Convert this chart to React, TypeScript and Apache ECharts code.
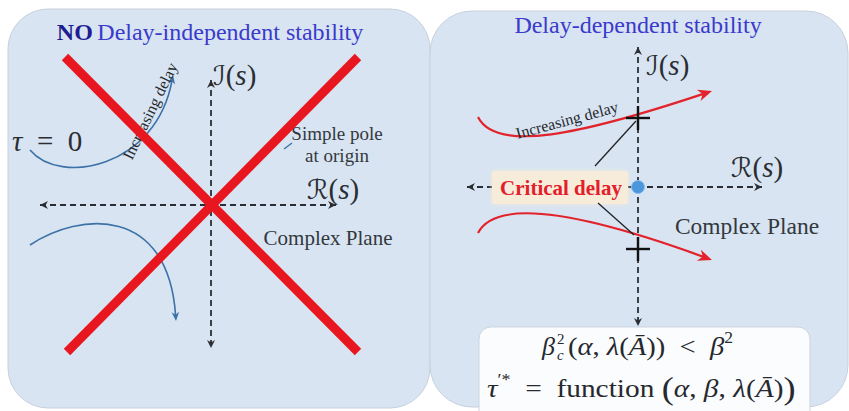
import React, { useEffect, useRef } from "react";
import * as echarts from "echarts";

const SERIF = "'Liberation Serif', 'Times New Roman', serif";
const SCRIPT = "'DejaVu Serif', 'DejaVu Sans', serif";

// ---- Diagram geometry (diagram units = px of the 849x411 canvas) ----
// Root-locus style curves: cubic Bézier control points
const curveNames = ["left-upper", "left-lower", "right-upper", "right-lower"];
const curveStart = [[30, 150], [30, 245], [478, 117], [478, 233]];
const curveCtrl1 = [[60, 186], [80, 212], [496, 153], [496, 198]];
const curveCtrl2 = [[156, 168], [168, 205], [580, 135], [580, 212]];
const curveEnd = [[173, 75], [176, 321], [712, 91], [712, 260]];
const curveColors = ["#3d72a8", "#3d72a8", "#e3232b", "#e3232b"];
const curveWidths = [1.6, 1.6, 2.2, 2.2];
const curveArrowLen = [9, 9, 14, 14];

// Dashed complex-plane axes [x1, y1, x2, y2] (arrow at both ends)
const axisSegments = [
  [40, 205, 336, 205],
  [211, 80, 211, 348],
  [467, 187, 762, 187],
  [638, 47, 638, 326],
];

// Big red cross over the left plane
const crossOut = [
  [65, 57, 358, 352],
  [358, 57, 67, 352],
];

// Thin pointer lines from "Critical delay" to the crossings
const pointerLines = [
  [595, 166, 636, 121],
  [598, 203, 634, 235],
];
// Crossing markers on the imaginary axis [x, y]
const crossings = [[638, 118], [638, 249]];

function arrowPts(tx: number, ty: number, fx: number, fy: number, len: number, hw: number) {
  const dx = tx - fx, dy = ty - fy;
  const l = Math.hypot(dx, dy) || 1;
  const ux = dx / l, uy = dy / l;
  const bx = tx - ux * len, by = ty - uy * len;
  return [
    [tx, ty],
    [bx - uy * hw, by + ux * hw],
    [tx - ux * len * 0.7, ty - uy * len * 0.7],
    [bx + uy * hw, by - ux * hw],
  ];
}

function text(x: number, y: number, str: string, style: any, extra: any = {}) {
  return {
    type: "text",
    x,
    y,
    z: extra.z ?? 6,
    rotation: extra.rotation ?? 0,
    scaleX: extra.scaleX ?? 1,
    style: {
      text: str,
      fontFamily: SERIF,
      fontSize: 18,
      fill: "#33383d",
      align: extra.align ?? "center",
      verticalAlign: "middle",
      textAlign: extra.align ?? "center",
      textVerticalAlign: "middle",
      ...style,
    },
  };
}

function buildOption() {
  const graphics: any[] = [];
  // panels
  graphics.push({
    type: "rect", z: 0,
    shape: { x: 8, y: 9, width: 422, height: 399, r: 40 },
    style: { fill: "#d8e4f1", stroke: "#c6d1dc", lineWidth: 1 },
  });
  graphics.push({
    type: "rect", z: 0,
    shape: { x: 430, y: 11, width: 418, height: 396, r: 42 },
    style: { fill: "#d8e4f1", stroke: "#c6d1dc", lineWidth: 1 },
  });
  // formula box
  graphics.push({
    type: "rect", z: 1,
    shape: { x: 479, y: 327, width: 331, height: 110, r: 12 },
    style: { fill: "#fbfcfe", stroke: "#ccd5de", lineWidth: 1 },
  });

  // axes
  axisSegments.forEach(([x1, y1, x2, y2]) => {
    graphics.push({
      type: "line", z: 4,
      shape: { x1, y1, x2, y2 },
      style: { stroke: "#2a2e34", lineWidth: 1.8, lineDash: [6, 4] },
    });
    graphics.push({ type: "polygon", z: 4, shape: { points: arrowPts(x2, y2, x1, y1, 8, 4) }, style: { fill: "#2a2e34" } });
    graphics.push({ type: "polygon", z: 4, shape: { points: arrowPts(x1, y1, x2, y2, 8, 4) }, style: { fill: "#2a2e34" } });
  });

  // red cross-out
  crossOut.forEach(([x1, y1, x2, y2]) => {
    graphics.push({
      type: "line", z: 8,
      shape: { x1, y1, x2, y2 },
      style: { stroke: "#e8161f", lineWidth: 9 },
    });
  });

  // pointer lines and crossing markers
  pointerLines.forEach(([x1, y1, x2, y2]) => {
    graphics.push({ type: "line", z: 6, shape: { x1, y1, x2, y2 }, style: { stroke: "#1f2328", lineWidth: 1.3 } });
  });
  crossings.forEach(([cx, cy]) => {
    graphics.push({ type: "line", z: 7, shape: { x1: cx - 12, y1: cy, x2: cx + 12, y2: cy }, style: { stroke: "#111", lineWidth: 2.4 } });
    graphics.push({ type: "line", z: 7, shape: { x1: cx, y1: cy - 12, x2: cx, y2: cy + 12 }, style: { stroke: "#111", lineWidth: 2.4 } });
  });
  // small pointer line near "Simple pole"
  graphics.push({ type: "line", z: 5, shape: { x1: 292, y1: 143, x2: 284, y2: 149 }, style: { stroke: "#3d72a8", lineWidth: 1.4 } });

  // critical delay box + dot
  graphics.push({
    type: "rect", z: 5,
    shape: { x: 492, y: 171, width: 136, height: 33, r: 3 },
    style: { fill: "#f7ecda", shadowBlur: 4, shadowColor: "rgba(247,236,218,0.9)" },
  });
  graphics.push(text(561, 188, "Critical delay", { fontSize: 21, fontWeight: "bold", fill: "#e3202a" }, { z: 6 }));
  graphics.push({
    type: "circle", z: 7,
    shape: { cx: 638, cy: 187, r: 6.5 },
    style: { fill: "#4b97dc", stroke: "#8cc0ee", lineWidth: 1 },
  });

  // titles
  graphics.push({
    ...text(210, 32, "{b|NO} {n|Delay-independent stability}", {
      rich: {
        b: { fontFamily: SERIF, fontSize: 24, fontWeight: "bold", fill: "#1e1e92" },
        n: { fontFamily: SERIF, fontSize: 24, fill: "#3a3acb" },
      },
    }),
  });
  graphics.push(text(638, 25, "Delay-dependent stability", { fontSize: 24, fill: "#3a3acb" }));

  // math labels
  const mathRich = {
    s: { fontFamily: SCRIPT, fontSize: 27, fill: "#2a2d31" },
    n: { fontFamily: SERIF, fontSize: 29, fill: "#2a2d31" },
    i: { fontFamily: SERIF, fontSize: 29, fontStyle: "italic", fill: "#2a2d31" },
  };
  graphics.push(text(213, 75, "{s|ℐ}{n|(}{i|s}{n|)}", { rich: mathRich }, { align: "left" }));
  graphics.push(text(307, 189, "{s|ℛ}{n|(}{i|s}{n|)}", { rich: mathRich }, { align: "left" }));
  graphics.push(text(646, 65, "{s|ℐ}{n|(}{i|s}{n|)}", { rich: mathRich }, { align: "left" }));
  graphics.push(text(731, 167, "{s|ℛ}{n|(}{i|s}{n|)}", { rich: mathRich }, { align: "left" }));
  graphics.push(text(12, 141, "{i|τ}{n|  =  0}", { rich: mathRich }, { align: "left" }));

  // annotations
  graphics.push(text(337, 133, "Simple pole", { fontSize: 19 }));
  graphics.push(text(337, 155, "at origin", { fontSize: 19 }));
  graphics.push(text(328, 238, "Complex Plane", { fontSize: 21 }));
  graphics.push(text(747, 226, "Complex Plane", { fontSize: 23.5 }));
  graphics.push(text(150, 111, "Increasing delay", { fontSize: 16, fill: "#25292e" }, { rotation: (64 * Math.PI) / 180, z: 6 }));
  graphics.push(text(567, 120, "Increasing delay", { fontSize: 16, fill: "#25292e" }, { rotation: (15 * Math.PI) / 180, z: 6 }));

  // formulas
  const fRich = {
    m: { fontFamily: SERIF, fontSize: 26, fontStyle: "italic", fill: "#26292d", lineHeight: 32 },
    n: { fontFamily: SERIF, fontSize: 26, fill: "#26292d", lineHeight: 32 },
    p: { fontFamily: SERIF, fontSize: 32, fill: "#26292d", lineHeight: 32 },
    s: { fontFamily: SERIF, fontSize: 16, fill: "#26292d", verticalAlign: "top", lineHeight: 32 },
  };
  graphics.push(text(542, 346, "β", { fontSize: 26, fontStyle: "italic", fill: "#26292d" }, { align: "left" }));
  graphics.push(text(557, 339, "2", { fontSize: 15, fill: "#26292d" }, { align: "left" }));
  graphics.push(text(557, 355, "c", { fontSize: 15, fontStyle: "italic", fill: "#26292d" }, { align: "left" }));
  graphics.push(
    text(568, 346, "{n|(}{m|α}{n|, }{m|λ}{n|(}{m|Ā}{n|))  <  }{m|β}{s|2}", { rich: fRich }, { align: "left", scaleX: 1.1 })
  );
  graphics.push(
    text(487, 388, "{m|τ}{s|′*}{n|  =  function }{p|(}{m|α}{n|, }{m|β}{n|, }{m|λ}{n|(}{m|Ā}{n|)}{p|)}", { rich: fRich }, { align: "left", scaleX: 1.13 })
  );

  return {
    animation: false,
    backgroundColor: "#ffffff",
    grid: { left: 0, right: 0, top: 0, bottom: 0 },
    xAxis: { type: "value", min: 0, max: 849, show: false },
    yAxis: { type: "value", min: 0, max: 411, inverse: true, show: false },
    graphic: { elements: graphics },
    series: [
      {
        type: "custom",
        name: "curves",
        z: 2,
        silent: true,
        data: curveStart.map((p, i) => [p[0], p[1], i]),
        encode: { x: 0, y: 1 },
        renderItem: (_params: any, api: any) => {
          const i = api.value(2) as number;
          const p0 = api.coord(curveStart[i]);
          const p1 = api.coord(curveCtrl1[i]);
          const p2 = api.coord(curveCtrl2[i]);
          const p3 = api.coord(curveEnd[i]);
          const L = curveArrowLen[i];
          const pts = arrowPts(p3[0], p3[1], p2[0], p2[1], L, L * 0.42);
          const dx = p3[0] - p2[0], dy = p3[1] - p2[1];
          const l = Math.hypot(dx, dy) || 1;
          const ex = p3[0] - (dx / l) * L * 0.6, ey = p3[1] - (dy / l) * L * 0.6;
          return {
            type: "group",
            name: curveNames[i],
            children: [
              {
                type: "bezierCurve",
                shape: { x1: p0[0], y1: p0[1], cpx1: p1[0], cpy1: p1[1], cpx2: p2[0], cpy2: p2[1], x2: ex, y2: ey },
                style: { stroke: curveColors[i], lineWidth: curveWidths[i], fill: null },
              },
              { type: "polygon", shape: { points: pts }, style: { fill: curveColors[i] } },
            ],
          };
        },
      },
    ],
  };
}

export default function App() {
  const ref = useRef<HTMLDivElement>(null);
  useEffect(() => {
    document.body.style.margin = "0";
    const chart = echarts.init(ref.current!, null, { renderer: "svg" });
    chart.setOption(buildOption() as any);
    return () => chart.dispose();
  }, []);
  return <div ref={ref} style={{ width: 849, height: 411 }} />;
}
